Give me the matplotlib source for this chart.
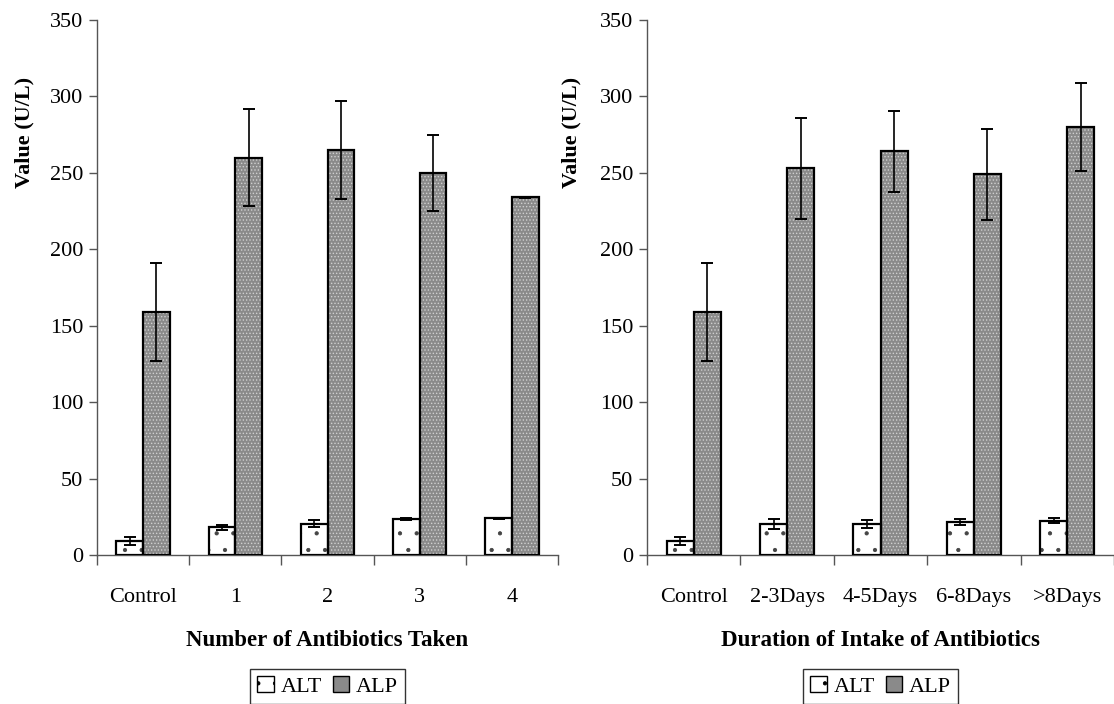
import matplotlib
matplotlib.use('Agg')
import matplotlib.pyplot as plt
from matplotlib.patches import Patch
import numpy as np

plt.rcParams['font.family'] = ['Liberation Serif', 'DejaVu Serif']
plt.rcParams['hatch.linewidth'] = 0.6

# Left panel: number of antibiotics taken
num_labels = ['Control', '1', '2', '3', '4']
num_alt = [9, 18, 20.5, 23.5, 24]
num_alt_err = [2.5, 1.5, 2.2, 0.6, 0.5]
num_alp = [159, 260, 265, 250, 234]
num_alp_err = [32, 32, 32, 25, 0.3]

# Right panel: duration of intake
dur_labels = ['Control', '2-3Days', '4-5Days', '6-8Days', '>8Days']
dur_alt = [9, 20, 20.5, 21.5, 22.5]
dur_alt_err = [2.5, 3.3, 2.7, 2.2, 1.7]
dur_alp = [159, 253, 264, 249, 280]
dur_alp_err = [32, 33, 26.5, 30, 29]

W, H = 1114, 704
fig = plt.figure(figsize=(W / 100, H / 100), dpi=100)

BAR_W = 0.29
ALP_GREY = '#8a8a8a'


def draw_panel(ax, labels, alt, alt_err, alp, alp_err, xlabel, ylab_x):
    x = np.arange(len(labels)) + 0.5
    # ALT: white with sparse dots
    ax.bar(x - BAR_W / 2, alt, BAR_W, color='white', edgecolor='#444444',
           hatch='.', linewidth=0, zorder=2)
    ax.bar(x - BAR_W / 2, alt, BAR_W, color='none', edgecolor='black',
           linewidth=1.6, zorder=3)
    # ALP: grey checker texture
    ax.bar(x + BAR_W / 2, alp, BAR_W, color=ALP_GREY, linewidth=0, zorder=2)
    ax.bar(x + BAR_W / 2, alp, BAR_W, color='none', edgecolor='#d0d0d0',
           hatch='.....', linewidth=0, zorder=2)
    ax.bar(x + BAR_W / 2, alp, BAR_W, color='none', edgecolor='black',
           linewidth=1.6, zorder=3)
    ax.errorbar(x - BAR_W / 2, alt, yerr=alt_err, fmt='none', ecolor='black',
                elinewidth=1.2, capsize=4, capthick=1.4, zorder=4)
    ax.errorbar(x + BAR_W / 2, alp, yerr=alp_err, fmt='none', ecolor='black',
                elinewidth=1.2, capsize=4, capthick=1.4, zorder=4)

    ax.set_xlim(0, len(labels))
    ax.set_ylim(0, 350)
    ax.set_yticks(range(0, 351, 50))
    ax.set_xticks(range(len(labels) + 1))
    ax.set_xticklabels([])
    ax.set_xticks(x, minor=True)
    ax.set_xticklabels(labels, minor=True)
    ax.tick_params(axis='x', which='major', length=7, width=1, color='#555555')
    ax.tick_params(axis='x', which='minor', length=0, pad=24, labelsize=16)
    ax.tick_params(axis='y', length=6, width=1, color='#555555', labelsize=16, pad=4)
    for s in ['top', 'right']:
        ax.spines[s].set_visible(False)
    for s in ['left', 'bottom']:
        ax.spines[s].set_color('#555555')
        ax.spines[s].set_linewidth(1)
    ax.set_xlabel(xlabel, fontsize=16.5, fontweight='bold', labelpad=16)
    ax.set_ylabel('Value (U/L)', fontsize=16, fontweight='bold')
    ax.yaxis.set_label_coords(ylab_x, 0.789)

    handles = [Patch(facecolor='white', edgecolor='black', hatch='.', linewidth=1),
               Patch(facecolor=ALP_GREY, edgecolor='black', linewidth=1)]
    ax.legend(handles, ['ALT', 'ALP'], ncol=2, loc='center',
              bbox_to_anchor=(0.5, -0.246), frameon=True, fancybox=False,
              edgecolor='black', fontsize=16, handlelength=0.75,
              handleheight=0.75, handletextpad=0.3, columnspacing=0.5,
              borderpad=0.3, borderaxespad=0)


bottom = 1 - 555 / H
height = (555 - 20) / H
ax1 = fig.add_axes([97 / W, bottom, (558 - 97) / W, height])
ax2 = fig.add_axes([647 / W, bottom, (1114 - 647) / W, height])

draw_panel(ax1, num_labels, num_alt, num_alt_err, num_alp, num_alp_err,
           'Number of Antibiotics Taken', -0.136)
draw_panel(ax2, dur_labels, dur_alt, dur_alt_err, dur_alp, dur_alp_err,
           'Duration of Intake of Antibiotics', -0.141)

fig.savefig('out.png', dpi=100)
